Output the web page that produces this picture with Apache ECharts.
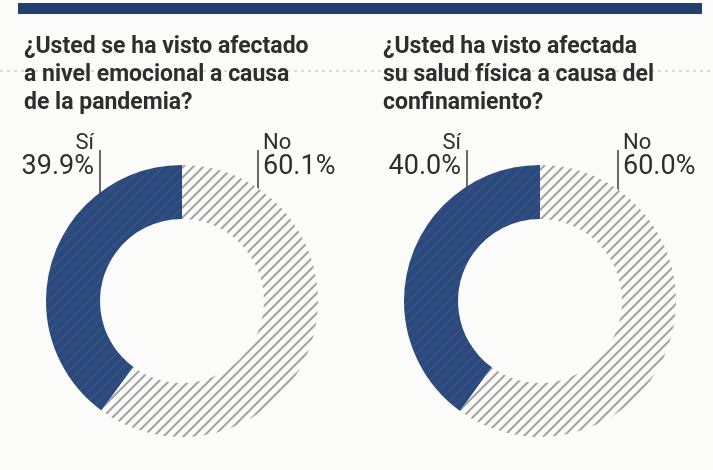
<!DOCTYPE html>
<html>
<head>
<meta charset="utf-8">
<script src="https://cdn.jsdelivr.net/npm/echarts@6/dist/echarts.min.js"></script>
<style>
  html, body { margin: 0; padding: 0; background: #fbfbfa; }
  #chart { width: 713px; height: 470px; }
</style>
</head>
<body>
<div id="chart"></div>
<script>
// datos
const titles = [
  "¿Usted se ha visto afectado\na nivel emocional a causa\nde la pandemia?",
  "¿Usted ha visto afectada\nsu salud física a causa del\nconfinamiento?",
];
const categories = ["Sí", "No"];
const emocional = [39.9, 60.1];
const fisica = [40.0, 60.0];

const TEXT = "#2e2e2e";

// trama rayada diagonal
function hatch(bg, fg, w) {
  const s = 10;
  const c = document.createElement("canvas");
  c.width = s;
  c.height = s;
  const ctx = c.getContext("2d");
  ctx.fillStyle = bg;
  ctx.fillRect(0, 0, s, s);
  ctx.strokeStyle = fg;
  ctx.lineWidth = w;
  ctx.beginPath();
  ctx.moveTo(-2, s + 2);
  ctx.lineTo(s + 2, -2);
  ctx.moveTo(-2, 2);
  ctx.lineTo(2, -2);
  ctx.moveTo(s - 2, s + 2);
  ctx.lineTo(s + 2, s - 2);
  ctx.stroke();
  return { image: c, repeat: "repeat" };
}
const bluePattern = hatch("#2b497b", "#34548a", 1.5);
const greyPattern = hatch("#fbfbfa", "#a3a3a3", 2);

const chart = echarts.init(document.getElementById("chart"));

// linea guia vertical de cada etiqueta (x relativo al centro)
const leaders = [
  [-82, 76],
  [-73, 78],
];
const LINE_TOP = 150;
const LINE_BOTTOM = 203;

function makePie(values, cx, idx) {
  return {
    type: "pie",
    center: [cx, 301],
    radius: [82, 136],
    startAngle: 90,
    clockwise: false,
    silent: true,
    avoidLabelOverlap: false,
    data: categories.map((name, i) => ({
      name: name,
      value: values[i],
      itemStyle: { color: i === 0 ? bluePattern : greyPattern },
    })),
    label: {
      show: true,
      position: "outside",
      alignTo: "none",
      overflow: "none",
      formatter: (p) => {
        const k = p.dataIndex === 0 ? "r" : "l";
        return `{n${k}|${p.name}}\n{v${k}|${p.value.toFixed(1)}%}`;
      },
      rich: {
        nr: { fontSize: 22, lineHeight: 22, align: "right", color: TEXT, fontFamily: "Roboto" },
        vr: { fontSize: 27, lineHeight: 27, align: "right", color: TEXT, fontFamily: "Roboto" },
        nl: { fontSize: 22, lineHeight: 22, align: "left", color: TEXT, fontFamily: "Roboto" },
        vl: { fontSize: 27, lineHeight: 27, align: "left", color: TEXT, fontFamily: "Roboto" },
      },
    },
    labelLine: {
      show: true,
      smooth: false,
      lineStyle: { color: "#3a3a3a", width: 1.5 },
    },
    labelLayout: (p) => {
      const lx = cx + leaders[idx][p.dataIndex];
      const left = p.dataIndex === 0;
      return {
        x: left ? lx - 6 : lx + 5,
        y: 181,
        align: left ? "right" : "left",
        verticalAlign: "bottom",
        labelLinePoints: [
          [lx, LINE_TOP],
          [lx, LINE_BOTTOM],
          [lx, LINE_BOTTOM],
        ],
      };
    },
  };
}

const titleStyle = {
  fontFamily: "Roboto",
  fontWeight: "bold",
  fontSize: 23,
  lineHeight: 28,
  color: TEXT,
};

const option = {
  animation: false,
  backgroundColor: "#fbfbfa",
  title: [
    { text: titles[0], left: 19, top: 28, textStyle: titleStyle },
    { text: titles[1], left: 378, top: 28, textStyle: titleStyle },
  ],
  graphic: [
    {
      type: "rect",
      shape: { x: 18, y: 3, width: 684, height: 11 },
      style: { fill: "#223f6e" },
      silent: true,
    },
    {
      type: "line",
      shape: { x1: 0, y1: 71, x2: 713, y2: 71 },
      style: { stroke: "#b5b5b5", lineWidth: 1, lineDash: [3, 4] },
      silent: true,
      z: -1,
    },
  ],
  series: [makePie(emocional, 182, 0), makePie(fisica, 540, 1)],
};

chart.setOption(option);
</script>
</body>
</html>
